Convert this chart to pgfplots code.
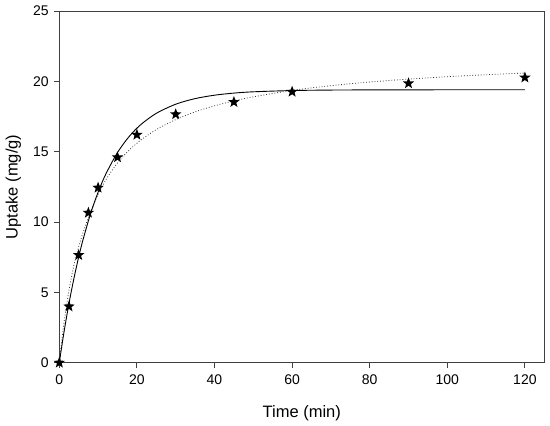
\documentclass[border=0pt]{standalone}
\usepackage{pgfplots}
\pgfplotsset{compat=1.18}
\usepackage{fontspec}
\setmainfont{Liberation Sans}
\pgfdeclareplotmark{fstar}{%
  \pgfpathmoveto{\pgfpointpolar{90}{\pgfplotmarksize}}%
  \pgfpathlineto{\pgfpointpolar{126}{0.42\pgfplotmarksize}}%
  \pgfpathlineto{\pgfpointpolar{162}{\pgfplotmarksize}}%
  \pgfpathlineto{\pgfpointpolar{198}{0.42\pgfplotmarksize}}%
  \pgfpathlineto{\pgfpointpolar{234}{\pgfplotmarksize}}%
  \pgfpathlineto{\pgfpointpolar{270}{0.42\pgfplotmarksize}}%
  \pgfpathlineto{\pgfpointpolar{306}{\pgfplotmarksize}}%
  \pgfpathlineto{\pgfpointpolar{342}{0.42\pgfplotmarksize}}%
  \pgfpathlineto{\pgfpointpolar{18}{\pgfplotmarksize}}%
  \pgfpathlineto{\pgfpointpolar{54}{0.42\pgfplotmarksize}}%
  \pgfpathclose
  \pgfusepathqfill}
\begin{document}
\begin{tikzpicture}
\begin{axis}[
  width=485pt, height=351.7pt, scale only axis,
  xmin=0, xmax=125, ymin=0, ymax=25,
  xtick={0,20,...,120}, ytick={0,5,...,25},
  tick align=outside, tick pos=left,
  major tick length=5pt,
  axis line style={draw=black!75, line width=0.9pt},
  every tick/.style={draw=black!75, line width=0.9pt},
  /pgf/number format/assume math mode=true,
  tick label style={font=\fontsize{14}{14}\selectfont},
  xticklabel style={yshift=-3pt},
  yticklabel style={xshift=-2pt},
  xlabel={Time (min)},
  ylabel={Uptake (mg/g)},
  every axis x label/.style={at={(axis description cs:0.5,0)}, anchor=base, yshift=-55pt, font=\fontsize{16.5}{16.5}\selectfont},
  every axis y label/.style={at={(axis description cs:0,0.5)}, xshift=-46pt, rotate=90, anchor=center, font=\fontsize{16.5}{16.5}\selectfont},
  clip=false,
]
% pseudo-second-order type fit (dotted)
\addplot[black!80, line width=0.8pt, dash pattern=on 0.8pt off 2pt, smooth] coordinates {
(0,0) (1,2.40) (2,4.30) (3,5.90) (4,7.20) (5,8.25) (6,9.15) (8,10.70) (10,11.95) (12,13.00)
(15,14.20) (18,15.10) (21,15.82) (25,16.57) (30,17.28) (35,17.83) (40,18.26) (45,18.61)
(50,18.90) (60,19.36) (70,19.69) (80,19.95) (90,20.16) (100,20.33) (110,20.47) (120,20.59)};
% pseudo-first-order type fit (solid)
\addplot[black, line width=0.9pt, smooth] coordinates {
(0,0) (1,1.811) (2,3.453) (3,4.941) (4,6.291) (5,7.515) (6,8.625) (8,10.542) (10,12.119)
(12,13.415) (15,14.939) (18,16.076) (21,16.922) (25,17.726) (30,18.374) (35,18.772)
(40,19.015) (45,19.164) (50,19.256) (60,19.346) (70,19.380) (80,19.392) (90,19.397)
(100,19.399) (120,19.4)};
% experimental data
\addplot[only marks, mark=fstar, mark size=6pt, black] coordinates {
(0,0) (2.5,4.0) (5,7.65) (7.5,10.66) (10,12.44) (15,14.6) (20,16.2) (30,17.66)
(45,18.53) (60,19.26) (90,19.86) (120,20.27)};
\end{axis}
\pgfresetboundingbox
\path ([shift={(-59.3pt,-63.3pt)}]current axis.south west) rectangle ([shift={(5.7pt,11pt)}]current axis.north east);
\end{tikzpicture}
\end{document}
